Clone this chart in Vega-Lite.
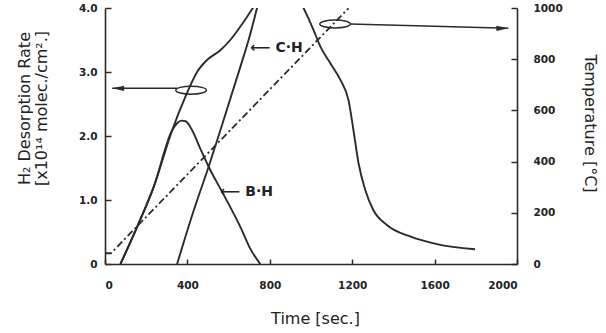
{
  "$schema": "https://vega.github.io/schema/vega-lite/v6.json",
  "autosize": {"type": "none"},
  "padding": {"left": 105, "top": 8, "right": 89, "bottom": 69},
  "width": 412,
  "height": 256,
  "background": "white",
  "config": {
    "view": {"stroke": null},
    "font": "DejaVu Sans",
    "axis": {
      "grid": false,
      "domainColor": "#2a2a2a",
      "domainWidth": 1.6,
      "tickColor": "#2a2a2a",
      "tickWidth": 1.5,
      "labelFont": "DejaVu Sans",
      "labelFontWeight": "bold",
      "labelFontSize": 10.5,
      "labelColor": "#222",
      "titleFont": "DejaVu Sans",
      "titleFontWeight": "normal",
      "titleFontSize": 16,
      "titleColor": "#222"
    }
  },
  "datasets": {
    "total": [
      {"t": 75, "r": 0}, {"t": 156, "r": 0.58}, {"t": 237, "r": 1.21}, {"t": 326, "r": 2.09},
      {"t": 390, "r": 2.61}, {"t": 447, "r": 3.0}, {"t": 496, "r": 3.19}, {"t": 560, "r": 3.34},
      {"t": 608, "r": 3.5}, {"t": 657, "r": 3.71}, {"t": 718, "r": 4.0}, {"t": 851, "r": 4.6},
      {"t": 964, "r": 4.0}, {"t": 1012, "r": 3.66}, {"t": 1045, "r": 3.4}, {"t": 1093, "r": 3.14},
      {"t": 1142, "r": 2.88}, {"t": 1182, "r": 2.56}, {"t": 1208, "r": 2.05}, {"t": 1231, "r": 1.57},
      {"t": 1263, "r": 1.16}, {"t": 1303, "r": 0.84}, {"t": 1368, "r": 0.61}, {"t": 1481, "r": 0.43},
      {"t": 1611, "r": 0.31}, {"t": 1796, "r": 0.23}
    ],
    "bh": [
      {"t": 75, "r": 0}, {"t": 156, "r": 0.58}, {"t": 237, "r": 1.21}, {"t": 326, "r": 2.09},
      {"t": 350, "r": 2.2}, {"t": 372, "r": 2.24}, {"t": 392, "r": 2.23}, {"t": 423, "r": 2.09},
      {"t": 463, "r": 1.8}, {"t": 503, "r": 1.52}, {"t": 568, "r": 1.13}, {"t": 657, "r": 0.58},
      {"t": 705, "r": 0.24}, {"t": 754, "r": 0}
    ],
    "ch": [
      {"t": 350, "r": 0}, {"t": 431, "r": 0.84}, {"t": 503, "r": 1.52}, {"t": 560, "r": 2.09},
      {"t": 657, "r": 3.08}, {"t": 697, "r": 3.5}, {"t": 738, "r": 4.0}, {"t": 770, "r": 4.4}
    ],
    "temp": [
      {"t": 0, "T": 42}, {"t": 29, "T": 42}, {"t": 1182, "T": 999}
    ],
    "arrows": [
      {"t": 35, "r": 2.745, "t2": 350, "r2": 2.745},
      {"t": 1190, "r": 3.75, "t2": 1958, "r2": 3.683}
    ],
    "heads": [
      {"t": 35, "r": 2.745, "dir": "left"},
      {"t": 1958, "r": 3.683, "dir": "right"}
    ],
    "ellipses": [
      {"t": 418, "r": 2.716},
      {"t": 1117, "r": 3.75}
    ],
    "labels": [
      {"t": 706, "r": 3.38, "text": "⟵ C·H"},
      {"t": 560, "r": 1.13, "text": "⟵ B·H"}
    ]
  },
  "resolve": {"scale": {"y": "independent"}},
  "layer": [
    {
      "encoding": {
        "x": {
          "field": "t", "type": "quantitative",
          "scale": {"domain": [0, 2000], "nice": false},
          "axis": {
            "values": [0, 400, 800, 1200, 1600, 2000],
            "format": "d",
            "tickSize": -5, "labelPadding": 21,
            "title": "Time [sec.]",
            "titleX": 210, "titleY": 59, "titleBaseline": "alphabetic"
          }
        },
        "y": {
          "field": "r", "type": "quantitative",
          "scale": {"domain": [0, 4], "nice": false},
          "axis": {
            "values": [0, 1, 2, 3, 4],
            "labelExpr": "datum.value == 0 ? '0' : format(datum.value, '.1f')",
            "tickSize": -6, "labelPadding": 14,
            "title": ["H₂ Desorption Rate", "[x10¹⁴  molec./cm².]"],
            "titleLineHeight": 17,
            "titleX": -81, "titleY": 100, "titleBaseline": "middle"
          }
        }
      },
      "layer": [
        {"data": {"name": "total"}, "mark": {"type": "line", "interpolate": "monotone", "clip": true, "color": "#2a2a2a", "strokeWidth": 1.9}},
        {"data": {"name": "bh"}, "mark": {"type": "line", "interpolate": "monotone", "clip": true, "color": "#2a2a2a", "strokeWidth": 1.9}},
        {"data": {"name": "ch"}, "mark": {"type": "line", "interpolate": "monotone", "clip": true, "color": "#2a2a2a", "strokeWidth": 1.9}},
        {"data": {"name": "arrows"}, "mark": {"type": "rule", "color": "#2a2a2a", "strokeWidth": 1.4},
          "encoding": {"x2": {"field": "t2"}, "y2": {"field": "r2"}}},
        {"data": {"name": "heads"}, "mark": {"type": "point", "filled": true, "color": "#2a2a2a", "size": 576, "opacity": 1},
          "encoding": {"shape": {"field": "dir", "type": "nominal", "legend": null,
            "scale": {"domain": ["left", "right"], "range": ["M 0 0 L 1 -0.22 L 1 0.22 Z", "M 0 0 L -1 -0.22 L -1 0.22 Z"]}}}},
        {"data": {"name": "ellipses"}, "mark": {"type": "point", "filled": false, "color": "#2a2a2a", "strokeWidth": 1.5, "size": 940, "opacity": 1,
          "shape": "M -1 0 A 1 0.26 0 1 0 1 0 A 1 0.26 0 1 0 -1 0"}},
        {"data": {"name": "labels"}, "mark": {"type": "text", "align": "left", "baseline": "middle", "font": "DejaVu Sans", "fontWeight": "bold", "fontSize": 14, "color": "#222"},
          "encoding": {"text": {"field": "text"}}}
      ]
    },
    {
      "data": {"name": "temp"},
      "mark": {"type": "line", "clip": true, "color": "#2a2a2a", "strokeWidth": 1.8, "strokeDash": [7, 3, 2, 3]},
      "encoding": {
        "x": {"field": "t", "type": "quantitative", "scale": {"domain": [0, 2000], "nice": false}},
        "y": {
          "field": "T", "type": "quantitative",
          "scale": {"domain": [0, 1000], "nice": false},
          "axis": {
            "orient": "right",
            "values": [0, 200, 400, 600, 800, 1000],
            "format": "d",
            "tickSize": -6, "labelPadding": 22,
            "title": "Temperature [°C]",
            "titleX": 72, "titleY": 115, "titleBaseline": "middle", "titleAngle": 90
          }
        }
      }
    }
  ]
}
